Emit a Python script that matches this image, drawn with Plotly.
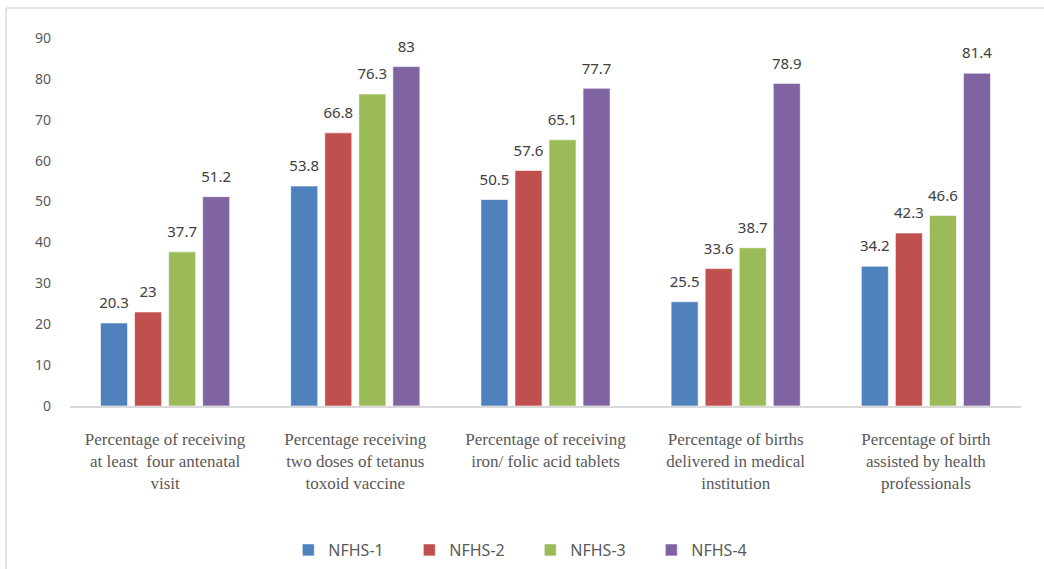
import plotly.graph_objects as go

categories = [
    "Percentage of receiving<br>at least  four antenatal<br>visit",
    "Percentage receiving<br>two doses of tetanus<br>toxoid vaccine",
    "Percentage of receiving<br>iron/ folic acid tablets",
    "Percentage of births<br>delivered in medical<br>institution",
    "Percentage of birth<br>assisted by health<br>professionals",
]
series_names = ["NFHS-1", "NFHS-2", "NFHS-3", "NFHS-4"]
nfhs1 = [20.3, 53.8, 50.5, 25.5, 34.2]
nfhs2 = [23, 66.8, 57.6, 33.6, 42.3]
nfhs3 = [37.7, 76.3, 65.1, 38.7, 46.6]
nfhs4 = [51.2, 83, 77.7, 78.9, 81.4]
y_ticks = [0, 10, 20, 30, 40, 50, 60, 70, 80, 90]

colors = ["#4F81BD", "#C0504D", "#9BBB59", "#8064A2"]
series_values = [nfhs1, nfhs2, nfhs3, nfhs4]

W, H = 1044, 569
ML, MR, MT, MB = 70, 23, 38, 163
BARGAP = 0.284

fig = go.Figure()
for name, vals, col in zip(series_names, series_values, colors):
    fig.add_trace(go.Bar(
        name=name, x=categories, y=vals, offsetgroup=name,
        marker=dict(color=col, line=dict(color="rgba(255,255,255,0.6)", width=1)),
        hoverinfo="skip",
    ))
# value labels sit above each bar, lifted by an invisible marker
for name, vals in zip(series_names, series_values):
    fig.add_trace(go.Scatter(
        x=categories, y=vals, offsetgroup=name, mode="markers+text",
        text=[f"{v:g}" for v in vals], textposition="top center",
        textfont=dict(family="Noto Sans", size=15, color="#404040"),
        marker=dict(size=16, color="rgba(0,0,0,0)"),
        showlegend=False, hoverinfo="skip", cliponaxis=False,
    ))

pw = W - ML - MR
ph = H - MT - MB
def px_x(p):
    return (p - ML) / pw
def px_y(p):
    return (H - MB - p) / ph

# light frame around the chart (left and top edges)
frame = dict(type="line", xref="paper", yref="paper",
             line=dict(color="#d9d9d9", width=1.5))
fig.add_shape(**frame, x0=px_x(6), x1=px_x(6), y0=px_y(8), y1=px_y(H + 5))
fig.add_shape(**frame, x0=px_x(6), x1=px_x(W + 5), y0=px_y(8), y1=px_y(8))

fig.update_layout(
    width=W, height=H,
    margin=dict(l=ML, r=MR, t=MT, b=MB, autoexpand=False),
    paper_bgcolor="white", plot_bgcolor="white",
    barmode="group", bargap=BARGAP, bargroupgap=0.206,
    scattermode="group", scattergap=BARGAP,
    showlegend=True,
    legend=dict(orientation="h", x=0.484, xanchor="center", y=px_y(550), yanchor="middle",
                font=dict(family="Noto Sans", size=16, color="#595959"),
                entrywidth=76, itemwidth=30),
    xaxis=dict(showline=True, linecolor="#d9d9d9", linewidth=1.5, showgrid=False,
               ticks="", tickfont=dict(family="Liberation Serif", size=17, color="#595959"),
               ticklabelstandoff=17),
    yaxis=dict(range=[0, 90], tickvals=y_ticks, showgrid=False, zeroline=False,
               showline=False, ticks="",
               tickfont=dict(family="Noto Sans", size=14, color="#595959"),
               ticklabelstandoff=18),
)

fig.write_html("out.html")
